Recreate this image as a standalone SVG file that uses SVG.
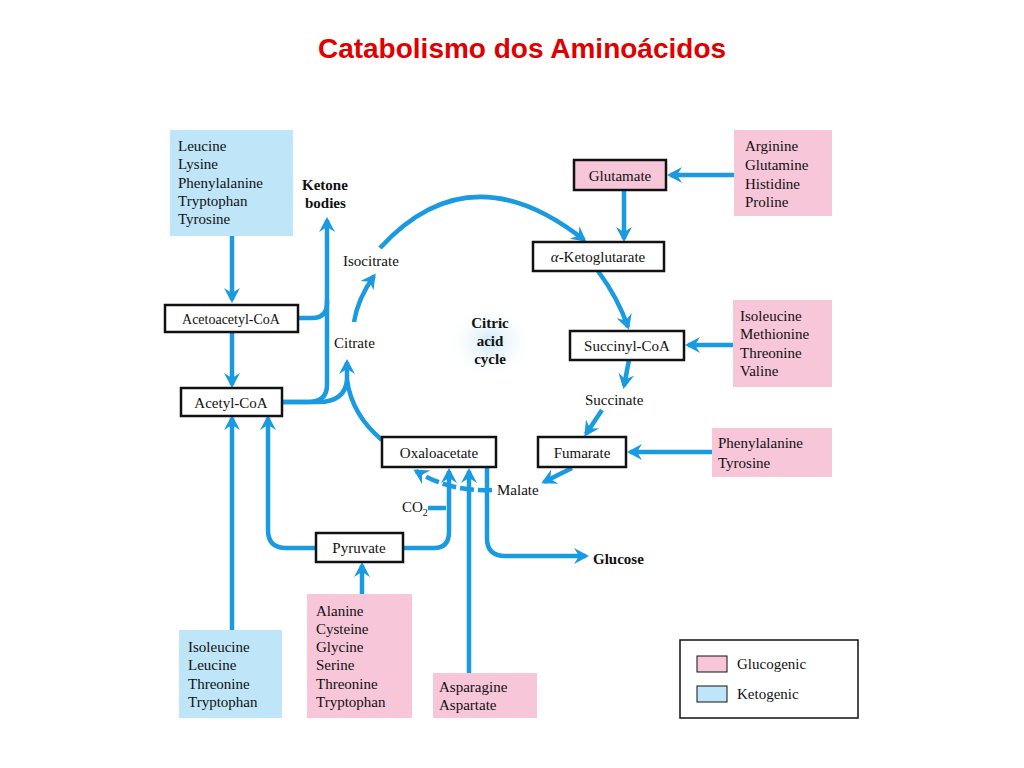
<svg xmlns="http://www.w3.org/2000/svg" width="1024" height="768" viewBox="0 0 1024 768">
<style>
.t{font-family:"Liberation Serif","DejaVu Serif",serif;font-size:15px;fill:#111}
.b{font-weight:bold}
.box{fill:#fff;stroke:#111;stroke-width:2.5}
.pk{fill:#f7c6d9}
.bl{fill:#bfe6f8}
.c{fill:none;stroke:#1a9ae0;stroke-width:4.5;marker-end:url(#ah)}
.n{fill:none;stroke:#1a9ae0;stroke-width:4.5}
</style>
<defs>
<marker id="ah" markerUnits="userSpaceOnUse" markerWidth="18" markerHeight="18" refX="12" refY="9" orient="auto">
<path d="M0,1 L15,9 L0,17 L5,9 Z" fill="#1a9ae0"/>
</marker>
<radialGradient id="glow"><stop offset="0" stop-color="#cfe9f8"/><stop offset="1" stop-color="#fff" stop-opacity="0"/></radialGradient>
</defs>
<rect width="1024" height="768" fill="#fff"/>
<text x="522" y="58" text-anchor="middle" style="font-family:'Liberation Sans',Arial,sans-serif;font-size:28px;font-weight:bold;fill:#e00000">Catabolismo dos Aminoácidos</text>

<g id="connectors">
<path class="c" d="M232,236 V300"/>
<path class="c" d="M232,332 V385"/>
<path class="c" d="M298,318 H312 Q327,318 327,303 V220"/>
<path class="n" d="M282,402 H308 Q327,402 327,385 V300"/>
<path class="c" d="M282,402 H318 Q345,402 347,380 V362"/>
<path class="n" d="M382,440 Q352,415 347,380"/>
<path class="c" d="M354,322 Q358,298 374,276"/>
<path class="c" d="M380,248 Q470,150 584,240"/>
<path class="c" d="M624,190 V239"/>
<path class="c" d="M734,175 H670"/>
<path class="c" d="M598,271 Q618,298 628,327"/>
<path class="c" d="M733,345 H688"/>
<path class="c" d="M629,360 L624,386"/>
<path class="c" d="M602,410 L586,434"/>
<path class="c" d="M712,452 H630"/>
<path class="c" d="M572,468 L544,482"/>
<path class="c" d="M492,490 Q450,492 416,471" stroke-dasharray="14,4"/>
<path class="c" d="M316,548 H286 Q268,548 268,530 V418"/>
<path class="c" d="M403,548 H434 Q449,548 449,532 V471"/>
<path class="n" d="M428,508 H446"/>
<path class="c" d="M362,594 V565"/>
<path class="c" d="M469,673 V471"/>
<path class="c" d="M487,467 V538 Q487,556 505,556 H586"/>
<path class="c" d="M232,630 V418"/>
</g>

<g id="ketogenic1"><rect class="bl" x="170" y="130" width="123" height="106"/>
<text class="t" x="178" y="151">Leucine</text><text class="t" x="178" y="169">Lysine</text><text class="t" x="178" y="188">Phenylalanine</text><text class="t" x="178" y="206">Tryptophan</text><text class="t" x="178" y="224">Tyrosine</text></g>
<g id="ketone"><text class="t b" x="302" y="190">Ketone</text><text class="t b" x="305" y="208">bodies</text></g>
<g id="acetoacetyl"><rect class="box" x="165" y="305" width="133" height="27"/><text class="t" x="231" y="324" text-anchor="middle" style="font-size:14px">Acetoacetyl-CoA</text></g>
<g id="acetyl"><rect class="box" x="181" y="388" width="101" height="28"/><text class="t" x="231" y="408" text-anchor="middle">Acetyl-CoA</text></g>
<g id="isocitrate"><text class="t" x="343" y="266">Isocitrate</text></g>
<g id="citrate"><text class="t" x="334" y="348">Citrate</text></g>
<g id="cycle"><ellipse cx="490" cy="342" rx="45" ry="38" fill="url(#glow)"/>
<text class="t b" x="490" y="328" text-anchor="middle">Citric</text><text class="t b" x="490" y="346" text-anchor="middle">acid</text><text class="t b" x="490" y="364" text-anchor="middle">cycle</text></g>
<g id="glutamate"><rect class="box pk" x="574" y="160" width="92" height="30"/><text class="t" x="620" y="181" text-anchor="middle">Glutamate</text></g>
<g id="arginine"><rect class="pk" x="734" y="130" width="98" height="86"/>
<text class="t" x="745" y="151">Arginine</text><text class="t" x="745" y="170">Glutamine</text><text class="t" x="745" y="189">Histidine</text><text class="t" x="745" y="207">Proline</text></g>
<g id="akg"><rect class="box" x="533" y="242" width="131" height="29"/><text class="t" x="598" y="262" text-anchor="middle"><tspan font-style="italic">α</tspan>-Ketoglutarate</text></g>
<g id="succinylcoa"><rect class="box" x="570" y="331" width="114" height="29"/><text class="t" x="627" y="351" text-anchor="middle">Succinyl-CoA</text></g>
<g id="isoleucine1"><rect class="pk" x="733" y="300" width="99" height="87"/>
<text class="t" x="740" y="321">Isoleucine</text><text class="t" x="740" y="339">Methionine</text><text class="t" x="740" y="358">Threonine</text><text class="t" x="740" y="376">Valine</text></g>
<g id="succinate"><text class="t" x="585" y="405">Succinate</text></g>
<g id="fumarate"><rect class="box" x="538" y="437" width="88" height="30"/><text class="t" x="582" y="458" text-anchor="middle">Fumarate</text></g>
<g id="phe"><rect class="pk" x="712" y="428" width="120" height="49"/>
<text class="t" x="718" y="448">Phenylalanine</text><text class="t" x="718" y="468">Tyrosine</text></g>
<g id="oxaloacetate"><rect class="box" x="382" y="437" width="114" height="30"/><text class="t" x="439" y="458" text-anchor="middle">Oxaloacetate</text></g>
<g id="malate"><text class="t" x="497" y="495">Malate</text></g>
<g id="co2"><text class="t" x="402" y="512">CO<tspan font-size="10" dy="4">2</tspan></text></g>
<g id="pyruvate"><rect class="box" x="316" y="533" width="87" height="29"/><text class="t" x="359" y="553" text-anchor="middle">Pyruvate</text></g>
<g id="glucose"><text class="t b" x="593" y="564">Glucose</text></g>
<g id="alanine"><rect class="pk" x="307" y="594" width="105" height="124"/>
<text class="t" x="316" y="616">Alanine</text><text class="t" x="316" y="634">Cysteine</text><text class="t" x="316" y="652">Glycine</text><text class="t" x="316" y="670">Serine</text><text class="t" x="316" y="689">Threonine</text><text class="t" x="316" y="707">Tryptophan</text></g>
<g id="asparagine"><rect class="pk" x="433" y="673" width="104" height="45"/>
<text class="t" x="439" y="692">Asparagine</text><text class="t" x="439" y="710">Aspartate</text></g>
<g id="ketogenic2"><rect class="bl" x="179" y="630" width="103" height="88"/>
<text class="t" x="188" y="652">Isoleucine</text><text class="t" x="188" y="670">Leucine</text><text class="t" x="188" y="689">Threonine</text><text class="t" x="188" y="707">Tryptophan</text></g>
<g id="legend"><rect x="680" y="640" width="178" height="78" fill="#fff" stroke="#111" stroke-width="1.5"/>
<rect class="pk" x="697" y="656" width="30" height="16" stroke="#111"/><text class="t" x="737" y="669">Glucogenic</text>
<rect class="bl" x="697" y="686" width="30" height="16" stroke="#111"/><text class="t" x="737" y="699">Ketogenic</text></g>
</svg>
